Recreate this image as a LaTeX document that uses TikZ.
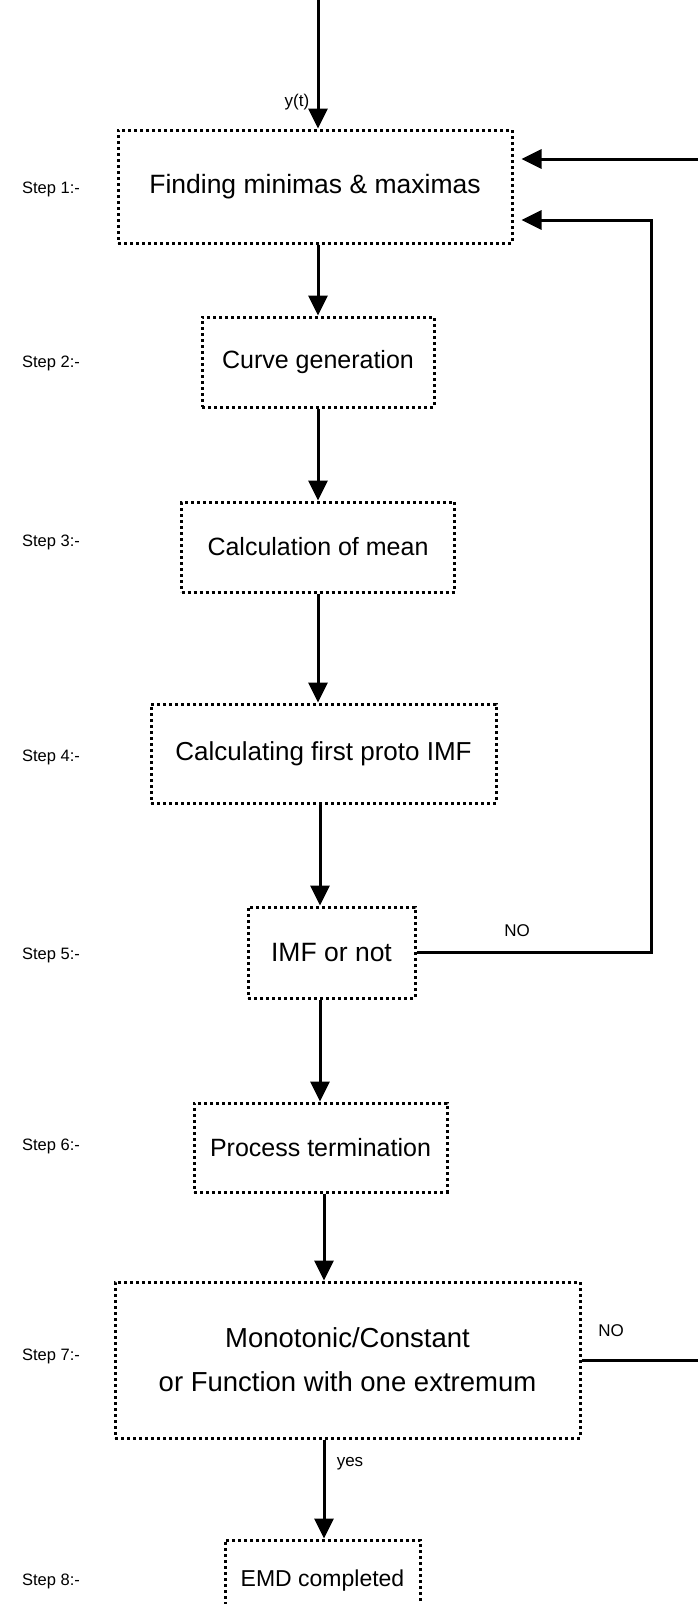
\documentclass[tikz,border=0pt]{standalone}
\usepackage{fontspec}
\setmainfont{Liberation Sans}
\usetikzlibrary{arrows.meta}
\tikzset{
  box/.style={draw, line width=3pt, dash pattern=on 3pt off 3pt, inner sep=0pt, align=center, font=\fontsize{25}{43}\selectfont},
  steplbl/.style={font=\fontsize{16.5}{19}\selectfont, inner sep=0pt},
  lbl/.style={font=\fontsize{17}{20}\selectfont, inner sep=0pt},
  arr/.style={line width=3pt, -{Triangle[length=20pt,width=19pt]}},
  ln/.style={line width=3pt}
}
\begin{document}
\begin{tikzpicture}[x=1pt,y=-1pt]
\useasboundingbox (0,0) rectangle (698,1604);
% boxes
\node[box, minimum width=394pt, minimum height=113pt, font=\fontsize{26.5}{43}\selectfont] (b1) at (315,186.5) {Finding minimas \& maximas};
\node[box, minimum width=232pt, minimum height=90pt] (b2) at (318,362) {Curve generation};
\node[box, minimum width=273pt, minimum height=90pt] (b3) at (318,547) {Calculation of mean};
\node[box, minimum width=345pt, minimum height=99pt, font=\fontsize{26}{43}\selectfont] (b4) at (323.5,753.5) {Calculating first proto IMF};
\node[box, minimum width=167pt, minimum height=91pt, font=\fontsize{26.5}{43}\selectfont] (b5) at (331.5,952.5) {IMF or not};
\node[box, minimum width=253pt, minimum height=89pt] (b6) at (320.5,1147.5) {Process termination};
\node[box, minimum width=465pt, minimum height=156pt, font=\fontsize{27.5}{44}\selectfont] (b7) at (347.5,1360) {Monotonic/Constant\\or Function with one extremum};
\node[box, minimum width=195pt, minimum height=82pt, font=\fontsize{23}{40}\selectfont] (b8) at (322.5,1581) {EMD completed};
% step labels
\node[steplbl] (s1) at (51,189) {Step 1:-};
\node[steplbl] (s2) at (51,363) {Step 2:-};
\node[steplbl] (s3) at (51,542) {Step 3:-};
\node[steplbl] (s4) at (51,757) {Step 4:-};
\node[steplbl] (s5) at (51,955) {Step 5:-};
\node[steplbl] (s6) at (51,1146) {Step 6:-};
\node[steplbl] (s7) at (51,1356) {Step 7:-};
\node[steplbl] (s8) at (51,1581) {Step 8:-};
% input
\coordinate (in) at (318,0);
\draw[arr] (in) -- (in |- b1.north);
\node[lbl] (yt) at (297,102) {y(t)};
% vertical connectors
\coordinate (x1) at (318,0);
\draw[arr] (b1.south -| x1) -- (b2.north -| x1);
\draw[arr] (b2.south -| x1) -- (b3.north -| x1);
\draw[arr] (b3.south -| x1) -- (b4.north -| x1);
\coordinate (x2) at (320,0);
\draw[arr] (b4.south -| x2) -- (b5.north -| x2);
\draw[arr] (b5.south -| x2) -- (b6.north -| x2);
\coordinate (x3) at (324,0);
\draw[arr] (b6.south -| x3) -- (b7.north -| x3);
\draw[arr] (b7.south -| x3) -- (b8.north -| x3);
\node[lbl] (yes) at (350,1464) {yes};
% feedback from step 5
\coordinate (c1) at (651,220);
\draw[arr, shorten >=8pt] (b5.east) -| (c1) -- (b1.east |- c1);
\node[lbl] (no5) at (517,931) {NO};
% feedback from step 7 (off the right edge)
\coordinate (r7) at (706,1360);
\coordinate (r1) at (706,159);
\draw[ln] (b7.east) -- (r7);
\draw[arr, shorten >=8pt] (r1) -- (b1.east |- r1);
\node[lbl] (no7) at (611,1331) {NO};
\end{tikzpicture}
\end{document}
